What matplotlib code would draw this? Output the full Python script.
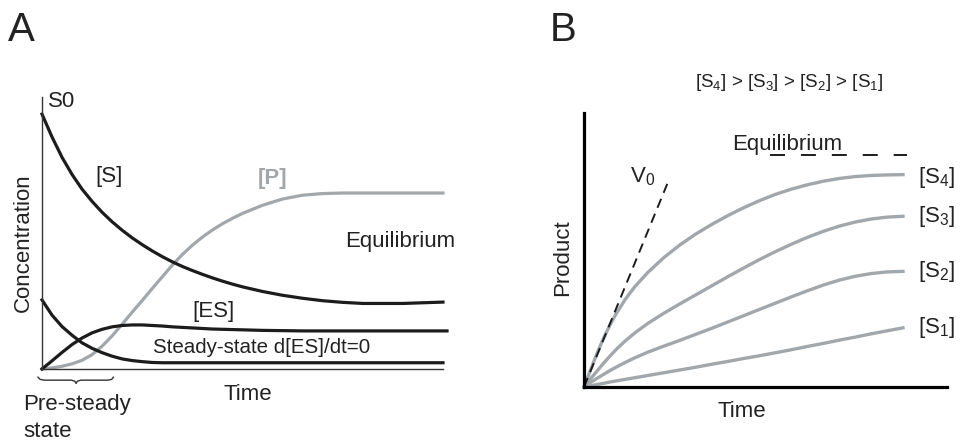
import matplotlib.pyplot as plt

plt.rcParams['font.family'] = ['Liberation Sans', 'DejaVu Sans']
plt.rcParams['mathtext.fontset'] = 'custom'
plt.rcParams['mathtext.rm'] = 'Liberation Sans'
plt.rcParams['mathtext.it'] = 'Liberation Sans'
plt.rcParams['mathtext.default'] = 'regular'

# ---- panel A: concentration vs time (arbitrary units 0-100)
tiempoA = [0, 2.5, 5, 7.5, 10, 12.5, 15, 17.5, 20, 22.5, 25, 27.5, 30, 32.5, 35,
           37.5, 40, 42.5, 45, 47.5, 50, 55, 60, 65, 70, 75, 80, 90, 100]
sustrato = [93.7, 85.3, 77.8, 71.5, 66.1, 61.6, 57.6, 54.1, 51.0, 48.2, 45.7, 43.4, 41.3, 39.4, 37.7,
            36.2, 34.8, 33.5, 32.3, 31.2, 30.2, 28.5, 27.1, 26.0, 25.1, 24.5, 24.1, 24.1, 24.6]
producto = [0, 0.4, 1.0, 1.9, 3.2, 5.3, 8.4, 12.2, 16.5, 20.9, 25.2, 29.6, 33.9, 38.2, 42.1,
            45.5, 48.5, 51.1, 53.4, 55.4, 57.2, 60.2, 62.5, 63.9, 64.5, 64.7, 64.7, 64.7, 64.7]
complejoES = [0, 3.0, 6.1, 9.0, 11.4, 13.3, 14.6, 15.5, 16.0, 16.2, 16.2, 16.0, 15.8, 15.5, 15.3,
              15.1, 14.9, 14.7, 14.6, 14.5, 14.4, 14.2, 14.1, 14.0, 14.0, 14.0, 14.0, 14.0, 14.0]
enzimaLibre = [25.4, 19.8, 15.6, 12.4, 9.6, 7.6, 6.0, 4.7, 3.7, 3.1, 2.7, 2.4, 2.3, 2.3, 2.3,
               2.3, 2.3, 2.3, 2.3, 2.3, 2.3, 2.3, 2.3, 2.3, 2.3, 2.3, 2.3, 2.3, 2.3]

# brace marking the pre-steady state
llave_t = [-1, -0.5, 0.5, 7.3, 8.2, 8.5, 8.8, 9.7, 16.5, 17.4, 17.8]
llave_y = [-3.0, -3.8, -4.1, -4.1, -4.5, -5.3, -4.5, -4.1, -4.1, -3.8, -3.0]

# ---- panel B: product vs time for four substrate concentrations
tiempoB = [0, 2, 4, 6, 8, 10, 13, 16, 20, 25, 30, 35, 40, 45, 50, 55, 60, 65, 70, 75, 80, 85, 90, 95, 100]
productoS4 = [0, 6.1, 12.0, 17.5, 22.3, 26.6, 32.1, 36.7, 41.8, 47.2, 51.8, 55.8, 59.3, 62.5, 65.4,
              68.0, 70.3, 72.2, 73.8, 75.1, 76.1, 76.8, 77.2, 77.4, 77.5]
productoS3 = [0, 2.9, 5.7, 8.5, 11.1, 13.6, 16.9, 19.8, 23.2, 26.9, 30.3, 33.6, 36.9, 40.2, 43.4,
              46.5, 49.4, 52.1, 54.6, 56.8, 58.7, 60.2, 61.3, 62.0, 62.3]
productoS2 = [0, 1.6, 3.1, 4.5, 5.9, 7.2, 9.0, 10.7, 12.7, 14.9, 17.0, 19.2, 21.4, 23.7, 26.0,
              28.3, 30.6, 32.9, 35.1, 37.2, 39.0, 40.4, 41.4, 42.0, 42.2]
productoS1 = [0, 0.4, 0.9, 1.3, 1.8, 2.2, 2.8, 3.4, 4.2, 5.2, 6.2, 7.2, 8.3, 9.3, 10.4,
              11.4, 12.5, 13.6, 14.8, 15.9, 17.1, 18.2, 19.4, 20.5, 21.6]
etiquetasB = ['[S$_4$]', '[S$_3$]', '[S$_2$]', '[S$_1$]']
v0_t = [0, 26.3]
v0_y = [0, 74.7]
equilibrio_t = [58.3, 101.3]
equilibrio_y = [84.6, 84.6]

negro = '#1c1c1c'
gris = '#a2a7ab'
texto = '#222222'

W, H = 960, 441
fig = plt.figure(figsize=(W / 100, H / 100), dpi=100)


def px(x, y):
    return x / W, 1 - y / H


# panel A axes: origin at pixel (42, 369), top 97, right 443
axA = fig.add_axes([42 / W, (H - 369) / H, 401 / W, 272 / H])
axA.set_xlim(0, 100)
axA.set_ylim(0, 100)
for s in ['top', 'right']:
    axA.spines[s].set_visible(False)
for s in ['left', 'bottom']:
    axA.spines[s].set_color('#333333')
    axA.spines[s].set_linewidth(1.0)
axA.set_xticks([])
axA.set_yticks([])
axA.patch.set_alpha(0)

axA.plot(tiempoA, producto, color=gris, lw=2.3, clip_on=False)
axA.plot(tiempoA, sustrato, color=negro, lw=2.3, clip_on=False)
axA.plot(tiempoA + [101], complejoES + [14], color=negro, lw=2.3, clip_on=False)
axA.plot(tiempoA, enzimaLibre, color=negro, lw=2.3, clip_on=False)
axA.plot(llave_t, llave_y, color='#333333', lw=1.0, clip_on=False)

# panel B axes: origin at pixel (584, 387)
axB = fig.add_axes([584 / W, (H - 387) / H, 363 / W, 274 / H])
axB.set_xlim(0, 113.8)
axB.set_ylim(0, 100)
for s in ['top', 'right']:
    axB.spines[s].set_visible(False)
for s in ['left', 'bottom']:
    axB.spines[s].set_color('black')
    axB.spines[s].set_linewidth(2.3)
axB.set_xticks([])
axB.set_yticks([])
axB.patch.set_alpha(0)

for serie in [productoS1, productoS2, productoS3, productoS4]:
    axB.plot(tiempoB, serie, color=gris, lw=2.4, clip_on=False)
axB.plot(v0_t, v0_y, color=negro, lw=1.4, ls=(0, (5, 3.3)), clip_on=False)
axB.plot(equilibrio_t, equilibrio_y, color=negro, lw=1.4, ls=(0, (7.7, 8.2)), clip_on=False)

# ---- texts
fs = 16
fig.text(*px(8, 41), 'A', fontsize=29, color=texto, va='baseline')
fig.text(*px(550, 41), 'B', fontsize=29, color=texto, va='baseline')

fig.text(*px(48, 107), 'S0', fontsize=fs, color=texto, va='baseline')
fig.text(*px(95, 182), '[S]', fontsize=fs, color=texto, va='baseline')
fig.text(*px(258, 184), '[P]', fontsize=fs, color=gris, fontweight='bold', va='baseline')
fig.text(*px(345, 247), 'Equilibrium', fontsize=fs, color=texto, va='baseline')
fig.text(*px(192, 317), '[ES]', fontsize=fs, color=texto, va='baseline')
fig.text(*px(153, 353), 'Steady-state d[ES]/dt=0', fontsize=14.8, color=texto, va='baseline')
fig.text(*px(223, 400), 'Time', fontsize=fs, color=texto, va='baseline')
fig.text(*px(23, 410), 'Pre-steady', fontsize=fs, color=texto, va='baseline')
fig.text(*px(23, 437), 'state', fontsize=fs, color=texto, va='baseline')
fig.text(*px(23, 243), 'Concentration', fontsize=fs, color=texto, rotation=90,
         ha='center', va='center')

fig.text(*px(789, 87), '[S$_4$] > [S$_3$] > [S$_2$] > [S$_1$]', fontsize=13.5,
         color=texto, ha='center', va='baseline')
fig.text(*px(732, 150), 'Equilibrium', fontsize=fs, color=texto, va='baseline')
fig.text(*px(630, 182), 'V$_0$', fontsize=fs, color=texto, va='baseline')
for etiqueta, yb in zip(etiquetasB, [183, 222, 277, 333]):
    fig.text(*px(918, yb), etiqueta, fontsize=fs, color=texto, va='baseline')
fig.text(*px(563, 258), 'Product', fontsize=fs, color=texto, rotation=90,
         ha='center', va='center')
fig.text(*px(717, 417), 'Time', fontsize=fs, color=texto, va='baseline')

fig.savefig('out.png', dpi=100)
